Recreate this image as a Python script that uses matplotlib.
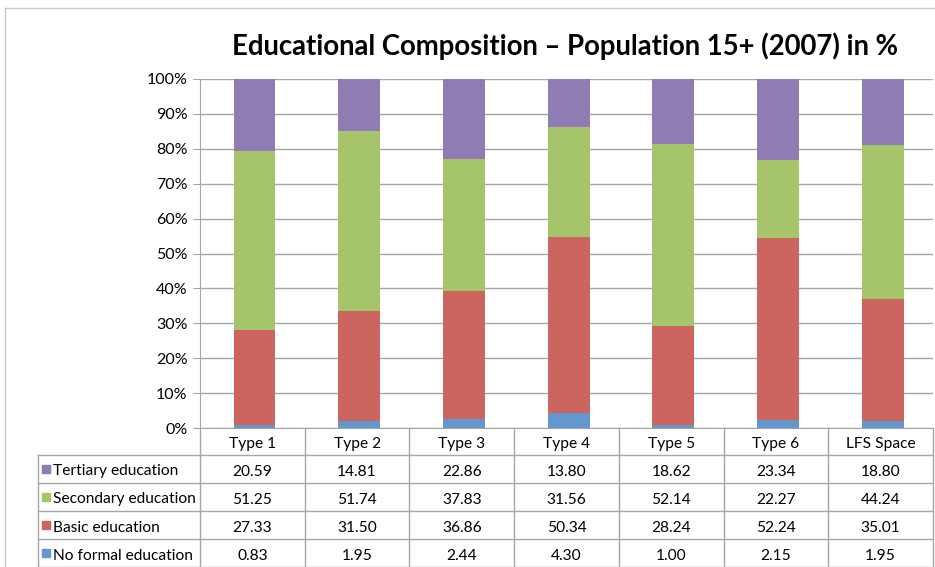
import numpy as np
import matplotlib.pyplot as plt
from matplotlib.lines import Line2D
from matplotlib.patches import Rectangle

plt.rcParams['font.family'] = ['Lato', 'DejaVu Sans']

categories = ['Type 1', 'Type 2', 'Type 3', 'Type 4', 'Type 5', 'Type 6', 'LFS Space']
series = ['No formal education', 'Basic education', 'Secondary education', 'Tertiary education']
no_formal = [0.83, 1.95, 2.44, 4.30, 1.00, 2.15, 1.95]
basic = [27.33, 31.50, 36.86, 50.34, 28.24, 52.24, 35.01]
secondary = [51.25, 51.74, 37.83, 31.56, 52.14, 22.27, 44.24]
tertiary = [20.59, 14.81, 22.86, 13.80, 18.62, 23.34, 18.80]
colors = ['#6497CD', '#CC6560', '#A6C46A', '#8F7CB2']
title = 'Educational Composition – Population 15+ (2007) in %'

W, H = 935, 567
fig = plt.figure(figsize=(W / 100, H / 100), dpi=100)

def fx(px):
    return px / W

def fy(py):
    return 1 - py / H

ax_l, ax_r, ax_t, ax_b = 200, 933, 79, 428
ax = fig.add_axes([fx(ax_l), fy(ax_b), fx(ax_r - ax_l), fy(ax_t) - fy(ax_b)])

data = np.array([no_formal, basic, secondary, tertiary])
pct = data / data.sum(axis=0) * 100
x = np.arange(len(categories))
bottom = np.zeros(len(categories))
for vals, c in zip(pct, colors):
    ax.bar(x + 0.02, vals, 0.4, bottom=bottom, color=c, zorder=3)
    bottom += vals

grid_col = '#A6A6A6'
ax.set_xlim(-0.5, len(categories) - 0.5)
ax.set_ylim(0, 100)
ax.set_yticks(np.arange(0, 101, 10))
ax.set_yticklabels([f'{v}%' for v in range(0, 101, 10)], fontsize=11.5)
ax.yaxis.grid(True, color=grid_col, lw=1, zorder=0)
ax.set_xticks([])
for s in ['top', 'right']:
    ax.spines[s].set_visible(False)
ax.spines['left'].set_color(grid_col)
ax.spines['bottom'].set_color(grid_col)
ax.tick_params(axis='y', length=5, color=grid_col, pad=4)

# chart border
fig.add_artist(Line2D([fx(5), fx(935)], [fy(8), fy(8)], color='#C8C8C8', lw=1))
fig.add_artist(Line2D([fx(5), fx(5)], [fy(8), fy(567)], color='#C8C8C8', lw=1))

fig.text(fx(565), fy(46), title, ha='center', va='center', fontsize=19.8, fontweight='bold')

# data table
col_w = (ax_r - ax_l) / len(categories)
row_tops = [428, 455, 483, 511, 539, 567]
tab_l = 38
tsize = 11.2
dy = 2.5
line_kw = dict(color=grid_col, lw=1)
for yy in row_tops[1:]:
    fig.add_artist(Line2D([fx(tab_l), fx(ax_r)], [fy(yy), fy(yy)], **line_kw))
fig.add_artist(Line2D([fx(tab_l), fx(tab_l)], [fy(455), fy(567)], **line_kw))
for i in range(len(categories) + 1):
    xx = ax_l + i * col_w
    fig.add_artist(Line2D([fx(xx), fx(xx)], [fy(428), fy(567)], **line_kw))

for i, cat in enumerate(categories):
    cx = ax_l + (i + 0.5) * col_w
    fig.text(fx(cx), fy((row_tops[0] + row_tops[1]) / 2 + dy), cat, ha='center', va='center', fontsize=tsize)

rows = list(zip(series, data, colors))[::-1]
for r, (name, vals, c) in enumerate(rows):
    cy = (row_tops[r + 1] + row_tops[r + 2]) / 2
    fig.add_artist(Rectangle((fx(42), fy(cy + 4)), fx(8), fy(cy - 4) - fy(cy + 4), color=c))
    fig.text(fx(53), fy(cy + dy), name, ha='left', va='center', fontsize=tsize)
    for i, v in enumerate(vals):
        cx = ax_l + (i + 0.5) * col_w
        fig.text(fx(cx), fy(cy + dy), f'{v:.2f}', ha='center', va='center', fontsize=tsize)

fig.savefig('out.png', dpi=100)
